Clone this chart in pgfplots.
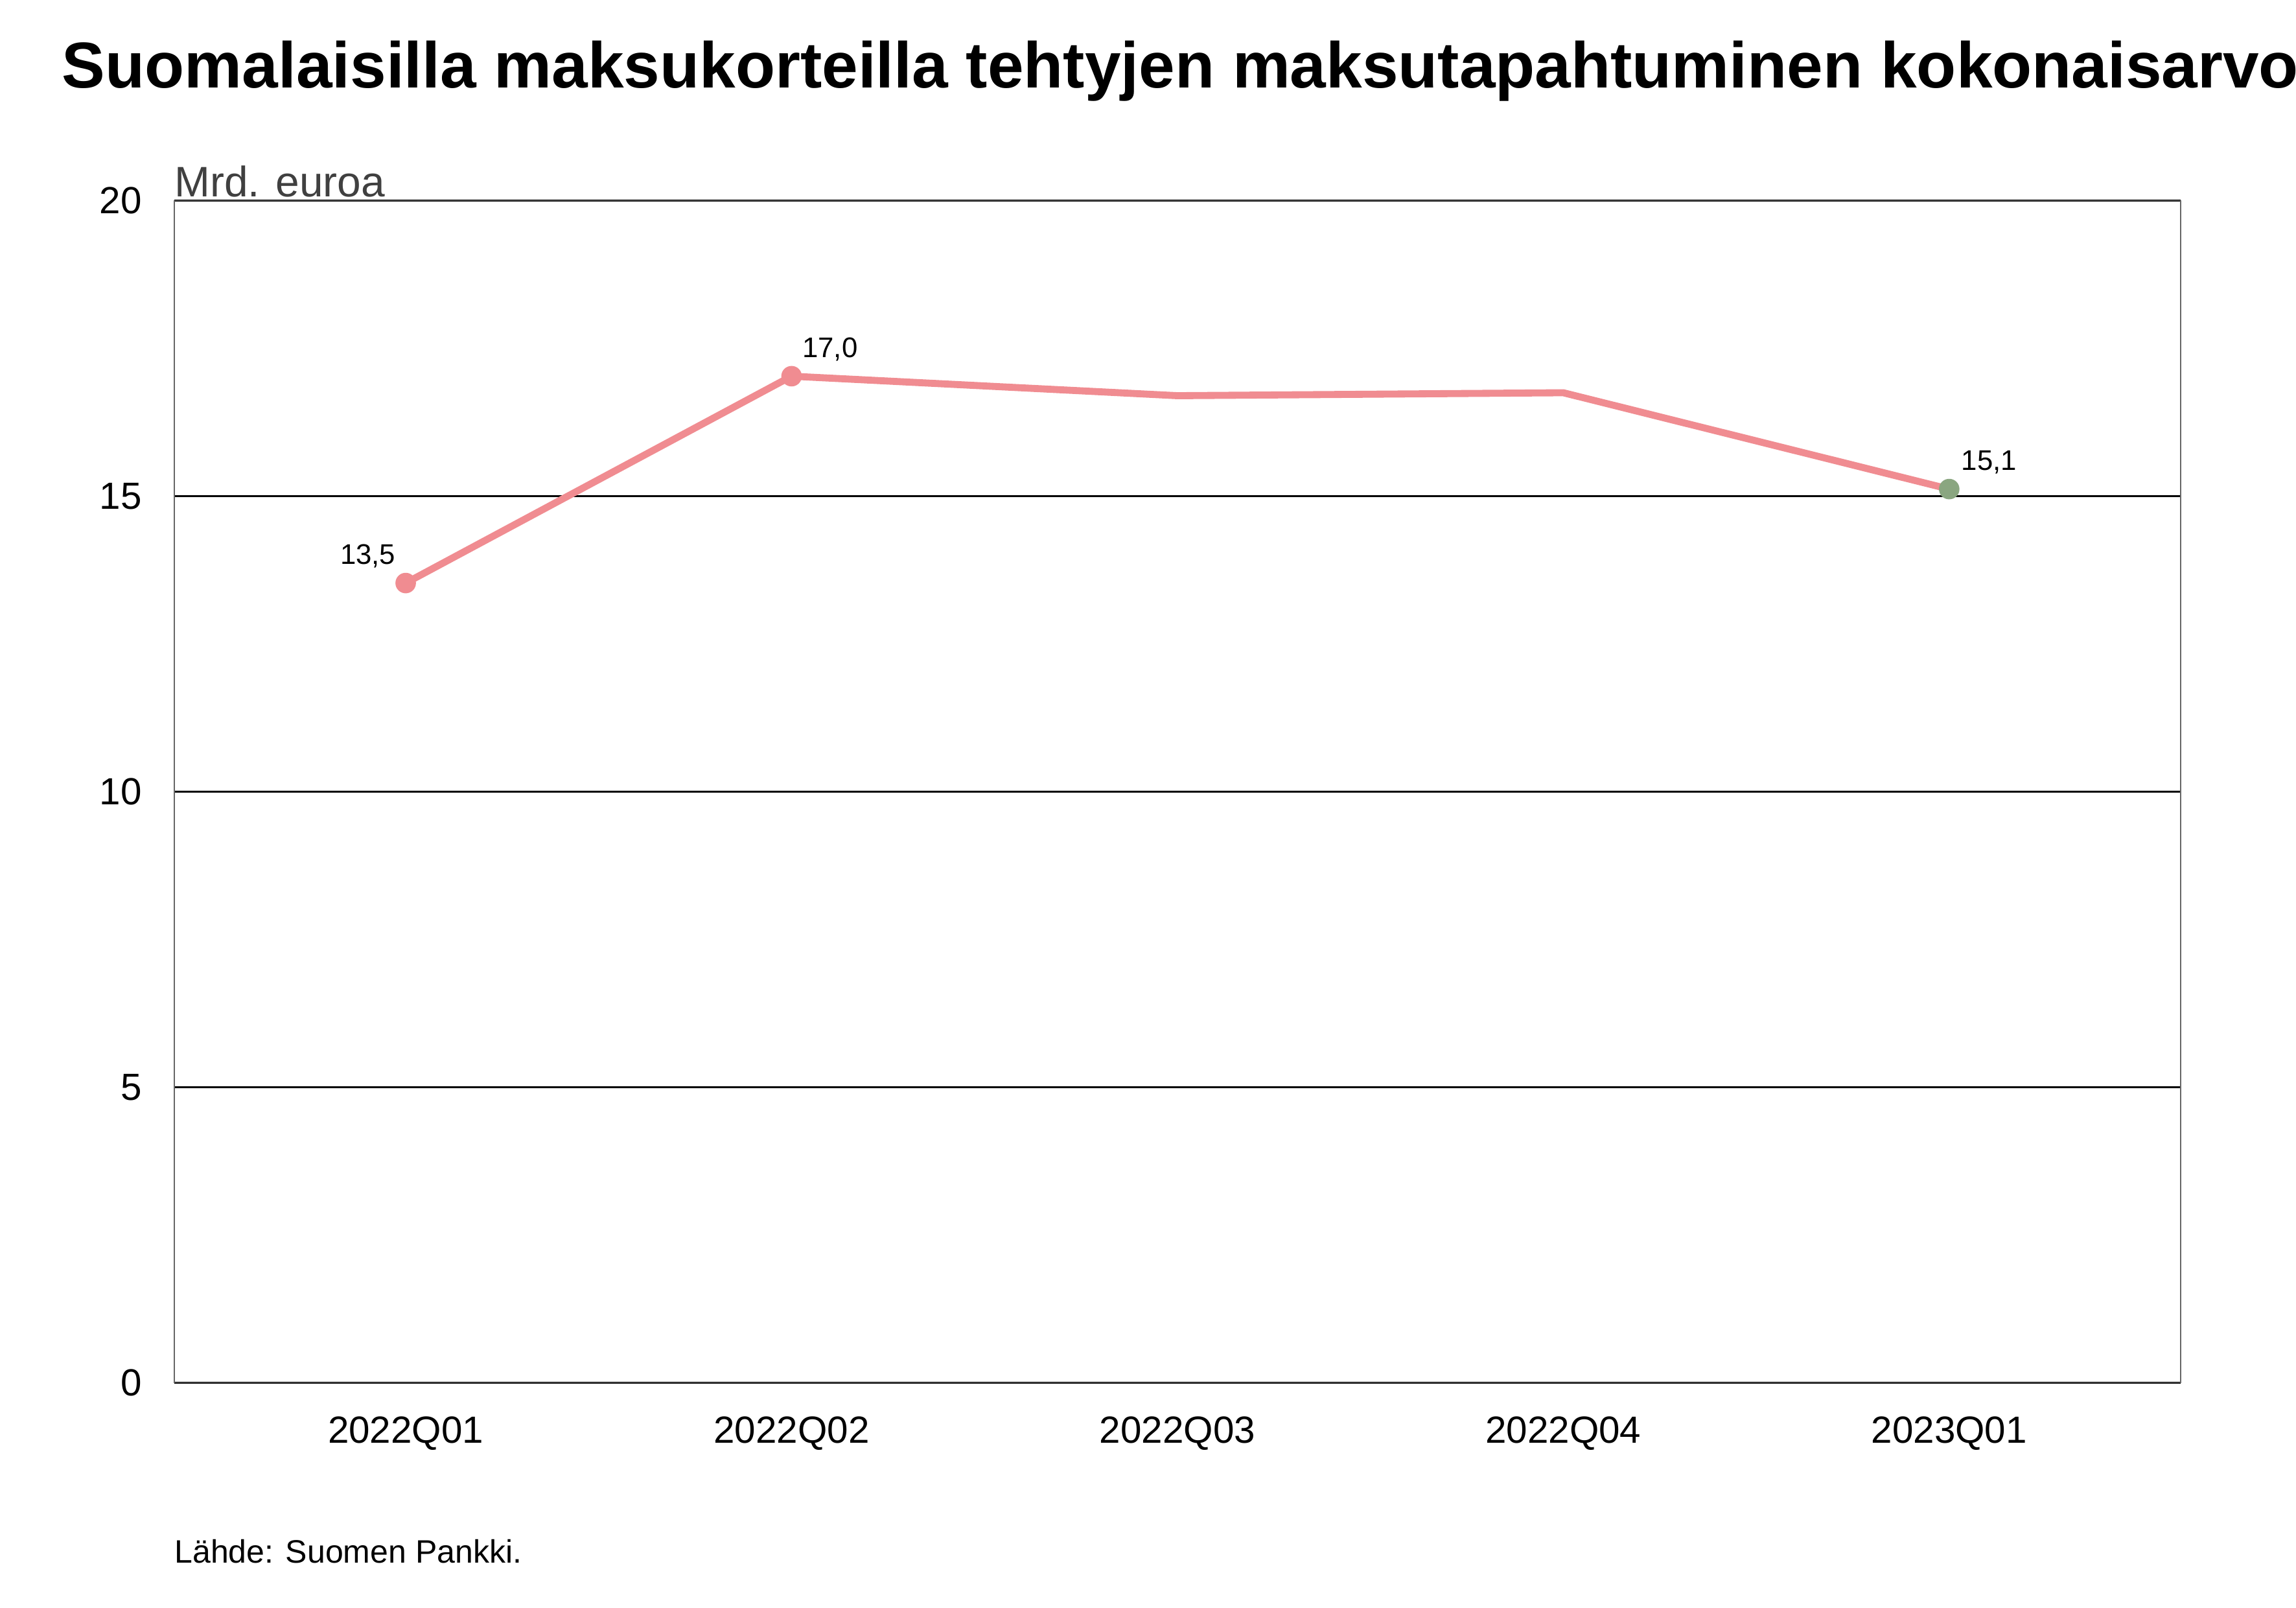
\documentclass[border=0pt]{standalone}
\usepackage{fontspec}
\setmainfont{Liberation Sans}
\usepackage{pgfplots}
\pgfplotsset{compat=1.18}
\definecolor{linepink}{RGB}{240,140,145}
\definecolor{markgreen}{RGB}{138,166,128}
\definecolor{unitgray}{RGB}{64,64,64}
\begin{document}
\begin{tikzpicture}
\path[use as bounding box] (0,0) rectangle (850.3pt,595.3pt);
\node[anchor=base west,font=\fontsize{24}{28}\selectfont\bfseries,inner sep=0pt] at (22.8pt,562.7pt)
  {Suomalaisilla maksukorteilla tehtyjen maksutapahtuminen kokonaisarvo};
\node[anchor=base west,font=\fontsize{12}{14}\selectfont,inner sep=0pt] at (64.5pt,16.5pt)
  {Lähde: Suomen Pankki.};
\begin{axis}[
    at={(64.5pt,83.3pt)}, anchor=south west,
    scale only axis,
    width=743.1pt, height=437.7pt,
    xmin=-0.6, xmax=4.6,
    ymin=0, ymax=20,
    ytick={0,5,10,15,20},
    xtick={0,1,2,3,4},
    xticklabels={2022Q01,2022Q02,2022Q03,2022Q04,2023Q01},
    ymajorgrids,
    grid style={black, line width=0.6pt},
    axis line style={gray!80!black, line width=0.4pt},
    major tick length=0pt,
    tick style={draw=none},
    ticklabel style={font=\fontsize{14}{16}\selectfont},
    /pgf/number format/assume math mode=true,
    yticklabel style={xshift=-8.5pt},
    xticklabel style={yshift=-9pt},
    clip=false,
]
\node[anchor=base west,inner sep=0pt,text=unitgray,font=\fontsize{15.8}{18}\selectfont]
  at (rel axis cs:0,1) [yshift=1.5pt] {Mrd. euroa};
\addplot[linepink, line width=2.6pt, mark=*, mark size=3.6pt,
  mark options={fill=linepink, draw=linepink, line width=0.4pt}, mark indices={1,2}] coordinates {
  (0,13.53) (1,17.03) (2,16.70) (3,16.75) (4,15.12)
};
\addplot[only marks, mark=*, mark size=3.6pt, mark options={fill=markgreen, draw=markgreen, line width=0.4pt}]
  coordinates {(4,15.12)};
\node[font=\fontsize{10.5}{12}\selectfont, anchor=base] at (axis cs:0,13.53) [xshift=-14pt, yshift=7pt] {13,5};
\node[font=\fontsize{10.5}{12}\selectfont, anchor=base west] at (axis cs:1,17.03) [xshift=0.5pt, yshift=7pt] {17,0};
\node[font=\fontsize{10.5}{12}\selectfont, anchor=base west] at (axis cs:4,15.12) [xshift=1pt, yshift=7pt] {15,1};
\end{axis}
\end{tikzpicture}
\end{document}
